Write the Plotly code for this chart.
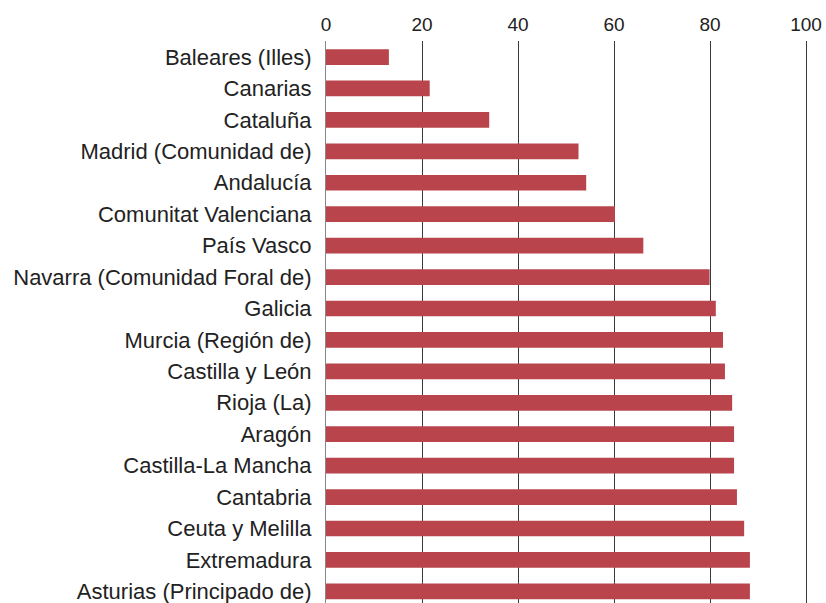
import plotly.graph_objects as go

regions = [
    "Baleares (Illes)", "Canarias", "Cataluña", "Madrid (Comunidad de)",
    "Andalucía", "Comunitat Valenciana", "País Vasco",
    "Navarra (Comunidad Foral de)", "Galicia", "Murcia (Región de)",
    "Castilla y León", "Rioja (La)", "Aragón", "Castilla-La Mancha",
    "Cantabria", "Ceuta y Melilla", "Extremadura", "Asturias (Principado de)",
]
values = [13.1, 21.6, 34.0, 52.6, 54.2, 60.2, 66.1, 79.9, 81.2, 82.7,
          83.1, 84.6, 85.0, 85.0, 85.6, 87.1, 88.3, 88.3]
x_ticks = [0, 20, 40, 60, 80, 100]

fig = go.Figure(go.Bar(
    x=values, y=regions, orientation="h",
    marker=dict(color="#b9444c", line=dict(width=0)),
    width=0.5,
))

fig.update_xaxes(
    side="top", range=[0, 100.4], tickvals=x_ticks,
    showgrid=True, gridcolor="#3a3a3a", gridwidth=1,
    zeroline=False, showline=False, ticks="",
    ticklabelstandoff=5,
    tickfont=dict(size=19, color="#222222"),
)
fig.update_yaxes(
    range=[17.37, -0.51], showgrid=False, zeroline=False,
    showline=True, linecolor="#888888", linewidth=1,
    ticks="", ticklabelstandoff=9,
    tickfont=dict(size=22, color="#222222"),
)
fig.update_layout(
    width=826, height=603,
    margin=dict(l=326, r=18, t=41, b=0, autoexpand=False),
    plot_bgcolor="white", paper_bgcolor="white",
    font=dict(family="Liberation Sans, Arial, sans-serif"),
    showlegend=False,
)
# the page's default body margin would push the figure 8px off the window
fig.write_html("out.html", config={"displayModeBar": False},
               post_script="document.body.style.margin='0';")
